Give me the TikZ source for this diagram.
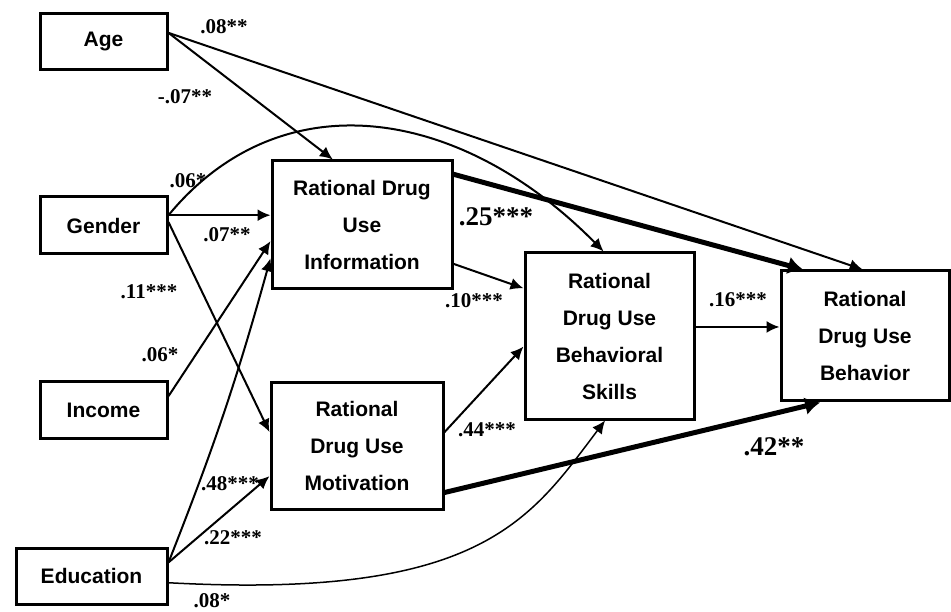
\documentclass[tikz,border=0pt]{standalone}
\usepackage{fontspec}
\setmainfont{Liberation Serif}
\newfontfamily\boxfont{Liberation Sans}
\usetikzlibrary{arrows.meta}

\begin{document}
\begin{tikzpicture}[yscale=-1
,pbox/.style={draw=black,line width=3pt,inner sep=0pt,align=center,font=\boxfont\bfseries\fontsize{21pt}{37pt}\selectfont}
,parrow/.style={line width=2pt,-{Latex[length=13pt,width=12pt]}}
,pthin/.style={line width=1.5pt,-{Latex[length=13pt,width=12pt]}}
,pthick/.style={line width=5pt,-{Latex[length=15pt,width=18pt]}}
,pcoef/.style={inner sep=0pt,font=\bfseries\fontsize{21pt}{25pt}\selectfont}
,pbig/.style={inner sep=0pt,font=\bfseries\fontsize{27pt}{31pt}\selectfont}
]
\useasboundingbox (0pt,0pt) rectangle (951pt,612pt);
% boxes
\node[pbox,minimum width=127pt,minimum height=56pt] (age) at (103.5pt,42pt) {Age};
\node[pbox,minimum width=127pt,minimum height=57pt] (gender) at (103.5pt,225.5pt) {Gender};
\node[pbox,minimum width=127pt,minimum height=56pt] (income) at (103.5pt,410pt) {Income};
\node[pbox,minimum width=151pt,minimum height=56pt] (educ) at (91.5pt,576pt) {Education};
\node[pbox,minimum width=180pt,minimum height=128pt] (info) at (362pt,225pt) {Rational Drug\\Use\\Information};
\node[pbox,minimum width=172pt,minimum height=126pt] (motiv) at (357pt,446pt) {Rational\\Drug Use\\Motivation};
\node[pbox,minimum width=169pt,minimum height=166pt] (skills) at (609.5pt,336pt) {Rational\\Drug Use\\Behavioral\\Skills};
\node[pbox,minimum width=168pt,minimum height=130pt] (behav) at (865pt,336pt) {Rational\\Drug Use\\Behavior};
% paths
\draw[parrow] (age.8) -- (info.114);
\draw[parrow] (age.8) -- (behav.92);
\draw[parrow] (gender.9) -- (gender.9 -| info.west);
\draw[parrow] (gender.9) .. controls +(113pt,-137pt) and +(-143pt,-145pt) .. (skills.94);
\draw[parrow] (gender.3) -- (motiv.171);
\draw[parrow] (income.12) -- (info.190);
\draw[parrow] (educ.10) to[bend left=3] (info.200);
\draw[parrow] (educ.10) -- (motiv.199);
\draw[pthin] (educ.-5) .. controls +(313pt,17pt) and +(-75pt,99pt) .. (skills.267);
\draw[parrow] (info.-23) -- (skills.151);
\draw[pthick] (info.29) -- (behav.133);
\draw[parrow] (motiv.9) -- (skills.187);
\draw[pthick] (motiv.-28) -- (behav.236);
\draw[parrow] (skills.6) -- (skills.6 -| behav.west);
% coefficients
\node[pcoef] (cagebehav) at (224pt,27pt) {.08**};
\node[pcoef] (cageinfo) at (185pt,97pt) {-.07**};
\node[pcoef] (cgenskills) at (188pt,181pt) {.06*};
\node[pcoef] (cgeninfo) at (227pt,235pt) {.07**};
\node[pcoef] (cgenmotiv) at (149pt,292pt) {.11***};
\node[pcoef] (cincinfo) at (160pt,355pt) {.06*};
\node[pcoef] (cedinfo) at (230pt,484pt) {.48***};
\node[pcoef] (cedmotiv) at (233pt,538pt) {.22***};
\node[pcoef] (cedskills) at (212pt,601pt) {.08*};
\node[pcoef] (cinfoskills) at (474pt,301pt) {.10***};
\node[pbig] (cinfobehav) at (496pt,217pt) {.25***};
\node[pcoef] (cskillsbehav) at (738pt,300pt) {.16***};
\node[pcoef] (cmotivskills) at (487pt,430pt) {.44***};
\node[pbig] (cmotivbehav) at (774pt,447pt) {.42**};
\end{tikzpicture}
\end{document}
